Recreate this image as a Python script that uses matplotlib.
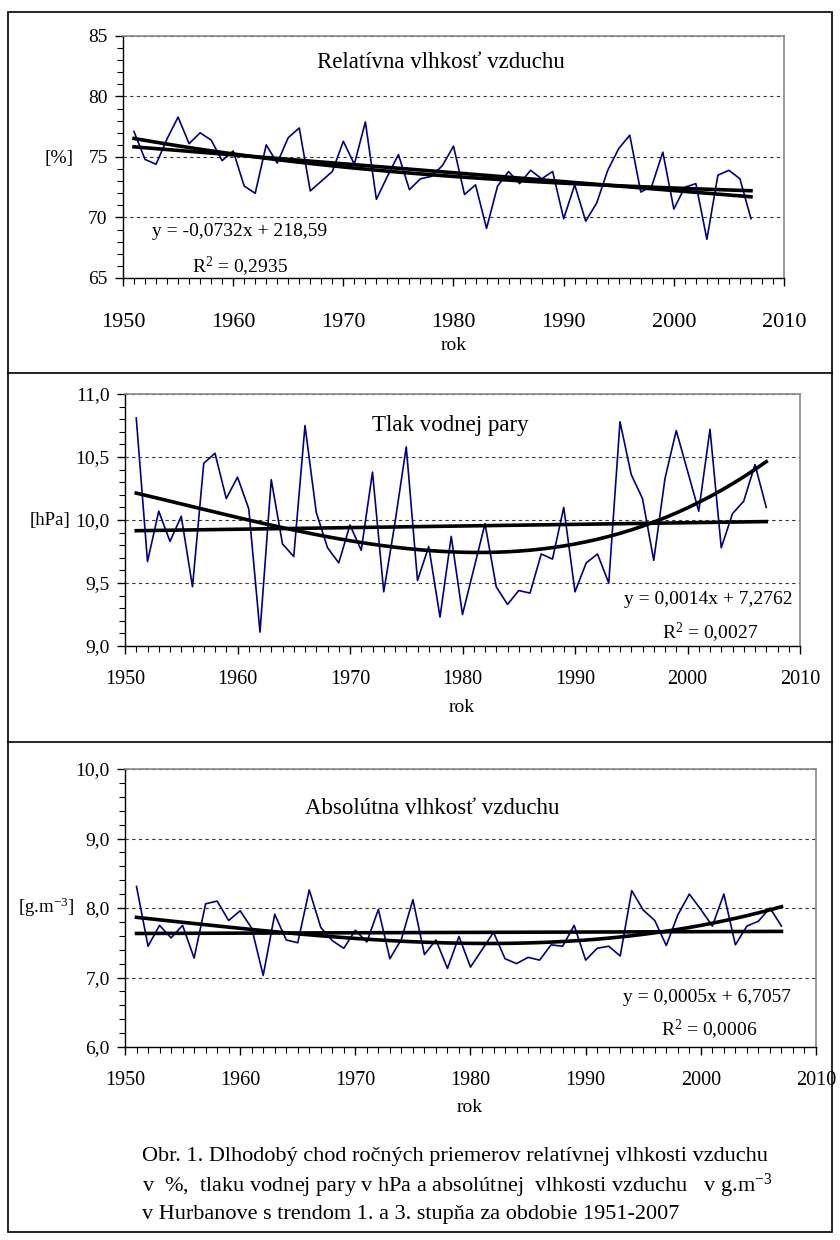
import numpy as np
import matplotlib
matplotlib.use("Agg")
import matplotlib.pyplot as plt
from matplotlib.ticker import MultipleLocator, FuncFormatter
from matplotlib.patches import Rectangle
from matplotlib.lines import Line2D

plt.rcParams['font.family'] = ['Liberation Serif', 'DejaVu Serif']
plt.rcParams['mathtext.fontset'] = 'custom'
plt.rcParams['mathtext.rm'] = 'Liberation Serif'
plt.rcParams['mathtext.it'] = 'Liberation Serif:italic'
plt.rcParams['mathtext.default'] = 'rm'

# ---- data ----
years = np.arange(1951, 2008)

rel_vlhkost = [77.1, 74.8, 74.4, 76.5, 78.3, 76.1, 77.0, 76.4, 74.7, 75.5,
               72.6, 72.0, 76.0, 74.5, 76.6, 77.4, 72.2, 73.0, 73.8, 76.3,
               74.4, 77.9, 71.5, 73.4, 75.2, 72.3, 73.2, 73.4, 74.3, 75.9,
               71.9, 72.7, 69.1, 72.6, 73.8, 72.8, 73.9, 73.2, 73.8, 69.9,
               72.7, 69.7, 71.2, 73.9, 75.7, 76.8, 72.1, 72.6, 75.4, 70.7,
               72.5, 72.8, 68.2, 73.5, 73.9, 73.2, 69.9]

tlak_pary = [10.81, 9.67, 10.07, 9.83, 10.03, 9.47, 10.45, 10.53, 10.17, 10.34,
             10.09, 9.11, 10.32, 9.81, 9.71, 10.75, 10.06, 9.78, 9.66, 9.96,
             9.76, 10.38, 9.43, 9.98, 10.58, 9.52, 9.79, 9.23, 9.87, 9.25,
             9.61, 9.97, 9.47, 9.33, 9.44, 9.42, 9.73, 9.69, 10.10, 9.43,
             9.66, 9.73, 9.50, 10.78, 10.36, 10.17, 9.68, 10.33, 10.71, 10.39,
             10.07, 10.72, 9.78, 10.05, 10.15, 10.44, 10.10]

abs_vlhkost = [8.31, 7.45, 7.75, 7.57, 7.75, 7.28, 8.06, 8.10, 7.82, 7.96,
               7.71, 7.03, 7.91, 7.54, 7.50, 8.26, 7.72, 7.53, 7.42, 7.68,
               7.51, 7.98, 7.27, 7.55, 8.12, 7.33, 7.54, 7.13, 7.59, 7.15,
               7.40, 7.65, 7.27, 7.20, 7.29, 7.25, 7.47, 7.45, 7.75, 7.25,
               7.42, 7.45, 7.31, 8.25, 7.97, 7.82, 7.46, 7.90, 8.20, 7.98,
               7.74, 8.20, 7.47, 7.74, 7.81, 8.00, 7.74]

W, H = 840, 1240
fig = plt.figure(figsize=(W / 100, H / 100), dpi=100)


def fx(x):
    return x / W


def fy(y):
    return 1 - y / H


def comma(dec):
    return FuncFormatter(lambda v, p: f"{v:.{dec}f}".replace('.', ','))


def panel(box, vals, ylim, major, minor, dec, xfs, xpad, yfs):
    l, t, r, b = box
    ax = fig.add_axes([fx(l), fy(b), (r - l) / W, (b - t) / H])
    yrs = years - 1979
    lin = np.polyval(np.polyfit(yrs, vals, 1), yrs)
    cub = np.polyval(np.polyfit(yrs, vals, 3), yrs)
    ax.plot(years, vals, color='#000080', lw=1.2, zorder=3)
    ax.plot(years, lin, color='black', lw=2.6, zorder=4)
    ax.plot(years, cub, color='black', lw=2.6, zorder=4)
    ax.set_xlim(1950, 2010)
    ax.set_ylim(*ylim)
    ax.xaxis.set_major_locator(MultipleLocator(10))
    ax.xaxis.set_minor_locator(MultipleLocator(1))
    ax.yaxis.set_major_locator(MultipleLocator(major))
    ax.yaxis.set_minor_locator(MultipleLocator(minor))
    ax.yaxis.set_major_formatter(comma(dec))
    ax.tick_params(axis='x', which='major', length=6, width=1, labelsize=xfs, pad=xpad)
    ax.tick_params(axis='x', which='minor', length=4, width=0.8)
    ax.tick_params(axis='y', which='major', length=6, width=1, labelsize=yfs, pad=5)
    ax.tick_params(axis='y', which='minor', length=4, width=0.8)
    ax.yaxis.grid(True, which='major', color='#333333', lw=0.8, linestyle=(0, (3, 3)))
    ax.set_axisbelow(True)
    for s in ('top', 'right'):
        ax.spines[s].set_color('#888888')
        ax.spines[s].set_linewidth(1.2)
    for s in ('left', 'bottom'):
        ax.spines[s].set_color('black')
        ax.spines[s].set_linewidth(1.0)
    return ax


panel((123, 36, 784, 278), rel_vlhkost, (65, 85), 5, 1, 0, 16, 19, 14)
panel((125, 394, 800, 646), tlak_pary, (9, 11), 0.5, 0.1, 1, 14.5, 11, 14)
panel((125, 769, 816, 1047), abs_vlhkost, (6, 10), 1, 0.2, 1, 14.5, 11, 14)

# titles, units, axis names
fig.text(fx(441), fy(62), "Relatívna vlhkosť vzduchu", fontsize=16.5, ha='center', va='center')
fig.text(fx(450), fy(425), "Tlak vodnej pary", fontsize=16.5, ha='center', va='center')
fig.text(fx(432), fy(808), "Absolútna vlhkosť vzduchu", fontsize=16.5, ha='center', va='center')

fig.text(fx(59), fy(158), "[%]", fontsize=14, ha='center', va='center')
fig.text(fx(50), fy(520), "[hPa]", fontsize=13.5, ha='center', va='center')
fig.text(fx(46), fy(907), "[g.m$^{-3}$]", fontsize=13.5, ha='center', va='center')

fig.text(fx(454), fy(346), "rok", fontsize=14, ha='center', va='center')
fig.text(fx(462), fy(707), "rok", fontsize=14, ha='center', va='center')
fig.text(fx(470), fy(1108), "rok", fontsize=14, ha='center', va='center')

# trend equations
fig.text(fx(152), fy(232), "y = -0,0732x + 218,59", fontsize=14, ha='left', va='center')
fig.text(fx(192), fy(267), "R$^2$ = 0,2935", fontsize=14, ha='left', va='center')
fig.text(fx(793), fy(600), "y = 0,0014x + 7,2762", fontsize=14, ha='right', va='center')
fig.text(fx(758), fy(633), "R$^2$ = 0,0027", fontsize=14, ha='right', va='center')
fig.text(fx(791), fy(998), "y = 0,0005x + 6,7057", fontsize=14, ha='right', va='center')
fig.text(fx(757), fy(1030), "R$^2$ = 0,0006", fontsize=14, ha='right', va='center')

# caption
caption = [
    "Obr. 1. Dlhodobý chod ročných priemerov relatívnej vlhkosti vzduchu",
    "v  %,  tlaku vodnej pary v hPa a absolútnej  vlhkosti vzduchu   v g.m$^{-3}$",
    "v Hurbanove s trendom 1. a 3. stupňa za obdobie 1951-2007",
]
for i, line in enumerate(caption):
    fig.text(fx(142), fy(1157 + 29 * i), line, fontsize=16, ha='left', va='center')

# outer frame and separators
fig.add_artist(Rectangle((fx(8), fy(1232)), (832 - 8) / W, (1232 - 12) / H,
                         transform=fig.transFigure, fill=False, ec='black', lw=1.2))
for y in (373, 742):
    fig.add_artist(Line2D([fx(8), fx(832)], [fy(y), fy(y)], transform=fig.transFigure,
                          color='black', lw=1.2))

fig.savefig("out.png", dpi=100)
